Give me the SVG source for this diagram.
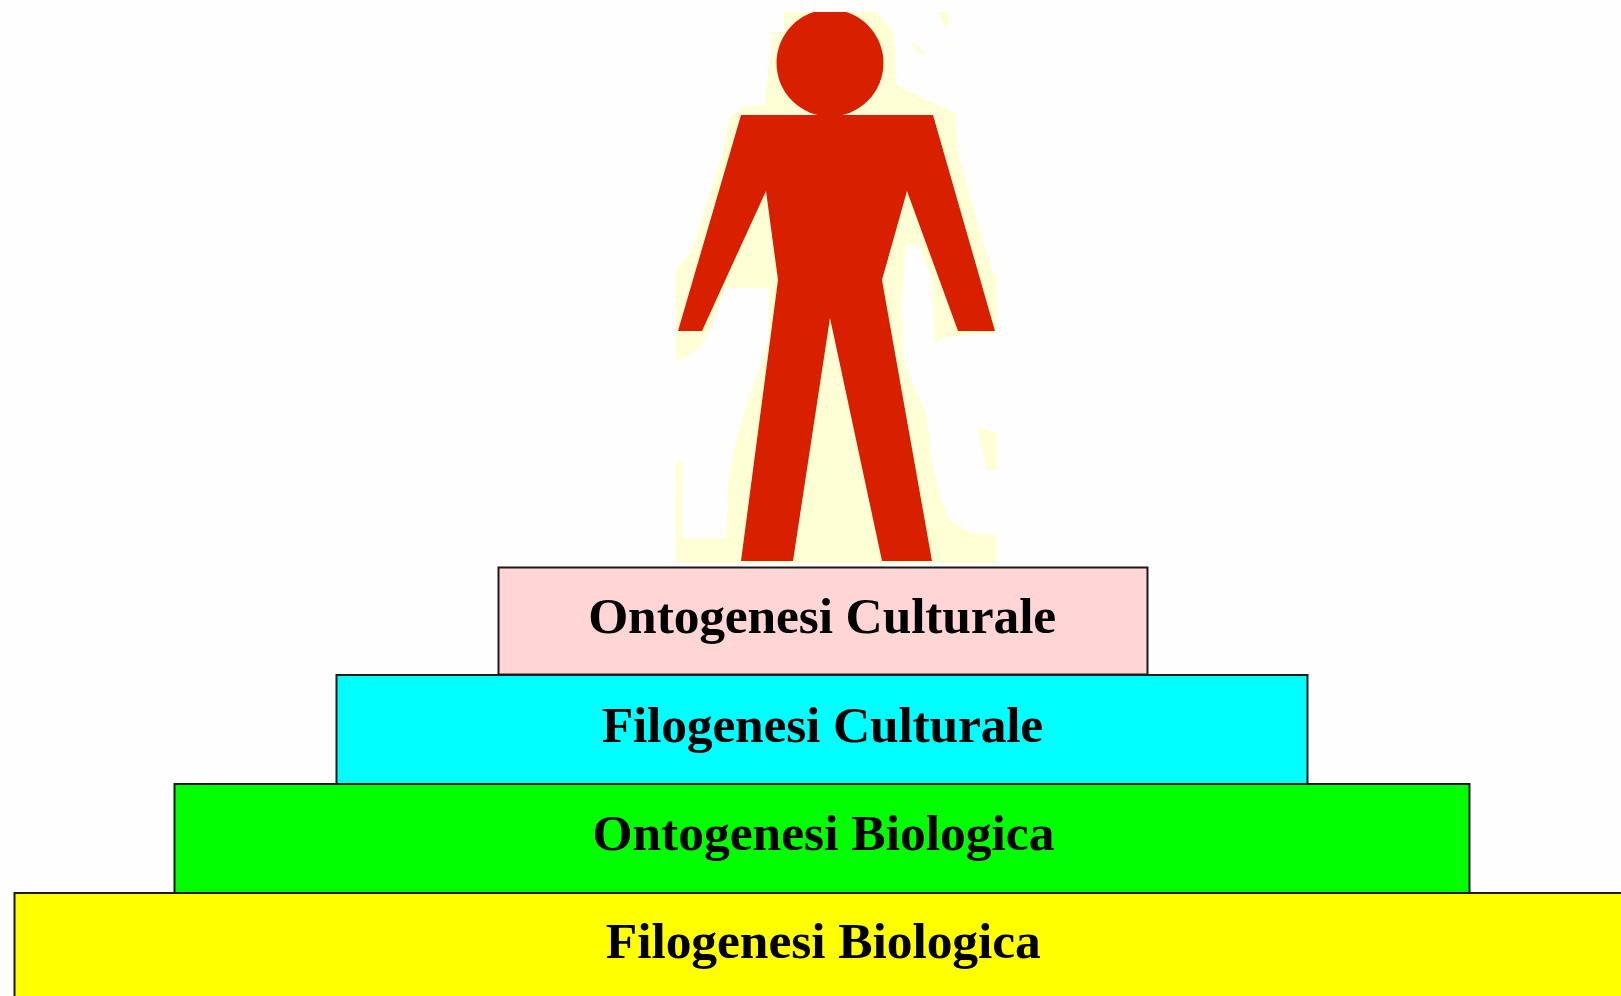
<svg xmlns="http://www.w3.org/2000/svg" width="1621" height="996" viewBox="0 0 1621 996">
<style>
.box{stroke:#1a1a1a;stroke-width:2}
.lbl{font-family:"Liberation Serif","Times New Roman",serif;font-weight:bold;font-size:51.5px;fill:#000;text-anchor:start}
.halo{fill:#ffffd6}
.fig{fill:#d82000}
</style>
<defs>
<clipPath id="topcrop"><rect x="0" y="12" width="1621" height="984"/></clipPath>
</defs>
<rect width="1621" height="996" fill="#fefefe"/>
<g id="figure">
<path class="halo" d="M784 12V32L770 33L772 44L765 97V105L745 106L730 117L722 153L708 200L690 253L676 268V362L700 348L713 323L725 288H769L768 343L750 393L737 437L728 480L726 538H683L682 462H676V563H997V535L970 532L950 520L940 497L932 460L927 417L913 383L903 357L902 300L906 245H919L932 280L935 342L947 337L997 333V277L993 273L975 213L957 147L955 113L927 100L897 85L894 33L877 12Z"/>
<path class="halo" d="M938 12H948V28L943 25ZM912 40L928 56L920 54L912 45ZM955 43L962 46L956 46ZM977 427L997 433V470H987Z"/>
<circle class="fig" cx="830" cy="63" r="53.5" clip-path="url(#topcrop)"/>
<path class="fig" d="M741 115H933L995 331H958L907 191L882 280L932 561H882L830 318L793 561H741L778 280L766 191L702 331H678Z"/>
</g>
<g id="connectors"></g>
<g id="node-ontogenesi-culturale">
<rect class="box" x="498.500" y="567.500" width="649" height="107" fill="#ffd5d5"/>
<text class="lbl" x="588.200" y="633" textLength="468">Ontogenesi Culturale</text>
</g>
<g id="node-filogenesi-culturale">
<rect class="box" x="336.500" y="675" width="971" height="109" fill="#00ffff"/>
<text class="lbl" x="601.700" y="742" textLength="441.500">Filogenesi Culturale</text>
</g>
<g id="node-ontogenesi-biologica">
<rect class="box" x="174.500" y="784" width="1295" height="109" fill="#00ff00"/>
<text class="lbl" x="592.400" y="850" textLength="462">Ontogenesi Biologica</text>
</g>
<g id="node-filogenesi-biologica">
<rect class="box" x="14.500" y="893" width="1640" height="120" fill="#ffff00"/>
<text class="lbl" x="605.800" y="958" textLength="435">Filogenesi Biologica</text>
</g>
</svg>
